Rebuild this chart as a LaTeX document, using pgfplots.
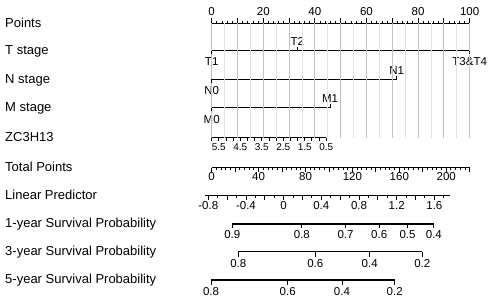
\documentclass[border=0pt]{standalone}
\usepackage{pgfplots}
\pgfplotsset{compat=1.18}
\usepackage{fontspec}
\setmainfont{Liberation Sans}
\begin{document}
\begin{tikzpicture}[font=\fontsize{11.5}{13}\selectfont,
  rl/.style={anchor=base west, inner sep=0pt, font=\fontsize{13}{15}\selectfont},
  tl/.style={anchor=base, inner sep=0pt, font=\fontsize{11.5}{13}\selectfont},
  zl/.style={anchor=base, inner sep=0pt, font=\fontsize{10}{12}\selectfont}]
\begin{axis}[
  name=nomo,
  scale only axis, width=491pt, height=303pt,
  xmin=-82.05, xmax=108.26, ymin=0, ymax=303, y dir=reverse,
  hide axis, clip=false,
  tk/.style={only marks, mark=|, black, line width=0.9pt},
  ln/.style={black, line width=1.3pt},
]
% ---------- vertical grid lines (points scale)
\addplot[only marks, mark=|, mark size=57.1, black!11, line width=0.8pt] coordinates {
 (5,80.4) (15,80.4) (25,80.4) (35,80.4) (45,80.4) (55,80.4) (65,80.4) (75,80.4) (85,80.4) (95,80.4)};
\addplot[only marks, mark=|, mark size=57.1, black!24, line width=0.8pt] coordinates {
 (0,80.4) (10,80.4) (20,80.4) (30,80.4) (40,80.4) (50,80.4) (60,80.4) (70,80.4) (80,80.4) (90,80.4) (100,80.4)};

% ---------- Points
\addplot[ln] coordinates {(0,23.3) (100,23.3)};
\addplot[tk, mark size=2.5] coordinates {(0,20.8) (10,20.8) (20,20.8) (30,20.8) (40,20.8) (50,20.8) (60,20.8) (70,20.8) (80,20.8) (90,20.8) (100,20.8)};
\addplot[tk, mark size=1.4] table[header=false, x index=0, y expr=21.9, row sep=\\] {
2\\4\\6\\8\\12\\14\\16\\18\\22\\24\\26\\28\\32\\34\\36\\38\\42\\44\\46\\48\\52\\54\\56\\58\\62\\64\\66\\68\\72\\74\\76\\78\\82\\84\\86\\88\\92\\94\\96\\98\\};
\node[tl] at (axis cs:0,15) {0};
\node[tl] at (axis cs:20,15) {20};
\node[tl] at (axis cs:40,15) {40};
\node[tl] at (axis cs:60,15) {60};
\node[tl] at (axis cs:80,15) {80};
\node[tl] at (axis cs:100,15) {100};

% ---------- T stage
\addplot[ln] coordinates {(0,50.7) (100,50.7)};
\addplot[tk, mark size=1.8] coordinates {(33.2,48.9)};
\addplot[tk, mark size=1.8] coordinates {(0,52.5) (100,52.5)};
\node[tl] at (axis cs:33.2,45.7) {T2};
\node[tl] at (axis cs:0,65.7) {T1};
\node[tl] at (axis cs:100,65.7) {T3\&T4};

% ---------- N stage
\addplot[ln] coordinates {(0,79.3) (71.7,79.3)};
\addplot[tk, mark size=1.8] coordinates {(71.7,77.5)};
\addplot[tk, mark size=1.8] coordinates {(0,81.1)};
\node[tl] at (axis cs:71.7,74.3) {N1};
\node[tl] at (axis cs:0,94.8) {N0};

% ---------- M stage
\addplot[ln] coordinates {(0,107.7) (45.9,107.7)};
\addplot[tk, mark size=1.8] coordinates {(45.9,105.9)};
\addplot[tk, mark size=1.8] coordinates {(0,109.5)};
\node[tl] at (axis cs:45.9,102.5) {M1};
\node[tl] at (axis cs:0,123.5) {M0};

% ---------- ZC3H13
\addplot[ln] coordinates {(0,137.5) (44.4,137.5)};
\addplot[tk, mark size=1.8] table[header=false, x index=0, y expr=139.3, row sep=\\] {
0\\2.775\\5.55\\8.325\\11.1\\13.875\\16.65\\19.425\\22.2\\24.975\\27.75\\30.525\\33.3\\36.075\\38.85\\41.625\\44.4\\};
\node[zl] at (axis cs:2.775,150.6) {5.5};
\node[zl] at (axis cs:11.1,150.6) {4.5};
\node[zl] at (axis cs:19.425,150.6) {3.5};
\node[zl] at (axis cs:27.75,150.6) {2.5};
\node[zl] at (axis cs:36.075,150.6) {1.5};
\node[zl] at (axis cs:44.4,150.6) {0.5};

% ---------- Total Points (0-220)
\addplot[ln] table[header=false, x expr=\thisrowno{0}/2.2, y expr=167.7, row sep=\\] {0\\220\\};
\addplot[tk, mark size=2] table[header=false, x expr=\thisrowno{0}/2.2, y expr=169.7, row sep=\\] {
0\\20\\40\\60\\80\\100\\120\\140\\160\\180\\200\\220\\};
\addplot[tk, mark size=1.3] table[header=false, x expr=\thisrowno{0}/2.2, y expr=169.0, row sep=\\] {
4\\8\\12\\16\\24\\28\\32\\36\\44\\48\\52\\56\\64\\68\\72\\76\\84\\88\\92\\96\\104\\108\\112\\116\\124\\128\\132\\136\\144\\148\\152\\156\\164\\168\\172\\176\\184\\188\\192\\196\\204\\208\\212\\216\\};
\node[tl] at (axis cs:0,180.5) {0};
\node[tl] at (axis cs:18.182,180.5) {40};
\node[tl] at (axis cs:36.364,180.5) {80};
\node[tl] at (axis cs:54.545,180.5) {120};
\node[tl] at (axis cs:72.727,180.5) {160};
\node[tl] at (axis cs:90.909,180.5) {200};

% ---------- Linear Predictor
\addplot[ln] table[header=false, x expr=-1.318+(\thisrowno{0}+0.8)*36.51, y expr=195.7, row sep=\\] {-0.83\\1.77\\};
\addplot[tk, mark size=2] table[header=false, x expr=-1.318+(\thisrowno{0}+0.8)*36.51, y expr=197.7, row sep=\\] {
-0.8\\-0.6\\-0.4\\-0.2\\0\\0.2\\0.4\\0.6\\0.8\\1.0\\1.2\\1.4\\1.6\\};
\addplot[tk, mark size=1.3] table[header=false, x expr=-1.318+(\thisrowno{0}+0.8)*36.51, y expr=197.0, row sep=\\] {
-0.7\\-0.5\\-0.3\\-0.1\\0.1\\0.3\\0.5\\0.7\\0.9\\1.1\\1.3\\1.5\\1.7\\};
\node[tl] at (axis cs:-1.318,209) {-0.8};
\node[tl] at (axis cs:13.286,209) {-0.4};
\node[tl] at (axis cs:27.89,209) {0};
\node[tl] at (axis cs:42.494,209) {0.4};
\node[tl] at (axis cs:57.098,209) {0.8};
\node[tl] at (axis cs:71.702,209) {1.2};
\node[tl] at (axis cs:86.306,209) {1.6};

% ---------- 1-year survival
\addplot[ln] coordinates {(7.98,224) (86.12,224)};
\addplot[tk, mark size=2] coordinates {(7.98,226) (34.96,226) (51.9,226) (64.92,226) (75.93,226) (86.12,226)};
\node[tl] at (axis cs:7.98,238.2) {0.9};
\node[tl] at (axis cs:34.96,238.2) {0.8};
\node[tl] at (axis cs:51.9,238.2) {0.7};
\node[tl] at (axis cs:64.92,238.2) {0.6};
\node[tl] at (axis cs:75.93,238.2) {0.5};
\node[tl] at (axis cs:86.12,238.2) {0.4};

% ---------- 3-year survival
\addplot[ln] coordinates {(10.31,251.7) (81.63,251.7)};
\addplot[tk, mark size=2.4] coordinates {(10.31,254.1) (40.16,254.1) (61.24,254.1) (81.63,254.1)};
\node[tl] at (axis cs:10.31,267) {0.8};
\node[tl] at (axis cs:40.16,267) {0.6};
\node[tl] at (axis cs:61.24,267) {0.4};
\node[tl] at (axis cs:81.63,267) {0.2};

% ---------- 5-year survival
\addplot[ln] coordinates {(-0.27,280) (70.93,280)};
\addplot[tk, mark size=2.4] coordinates {(-0.27,282.4) (29.46,282.4) (50.5,282.4) (70.93,282.4)};
\node[tl] at (axis cs:-0.27,295.8) {0.8};
\node[tl] at (axis cs:29.46,295.8) {0.6};
\node[tl] at (axis cs:50.5,295.8) {0.4};
\node[tl] at (axis cs:70.93,295.8) {0.2};

% ---------- row labels
\node[rl] at (axis cs:-80.1,27.2) {Points};
\node[rl] at (axis cs:-80.1,54.3) {T stage};
\node[rl] at (axis cs:-80.1,83) {N stage};
\node[rl] at (axis cs:-80.1,111.4) {M stage};
\node[rl] at (axis cs:-80.1,141.2) {ZC3H13};
\node[rl] at (axis cs:-80.1,171.2) {Total Points};
\node[rl] at (axis cs:-80.1,199.3) {Linear Predictor};
\node[rl] at (axis cs:-80.1,227.6) {1-year Survival Probability};
\node[rl] at (axis cs:-80.1,255.3) {3-year Survival Probability};
\node[rl] at (axis cs:-80.1,283.6) {5-year Survival Probability};
\end{axis}
\pgfresetboundingbox
\path[use as bounding box] (nomo.south west) rectangle (nomo.north east);
\end{tikzpicture}
\end{document}
